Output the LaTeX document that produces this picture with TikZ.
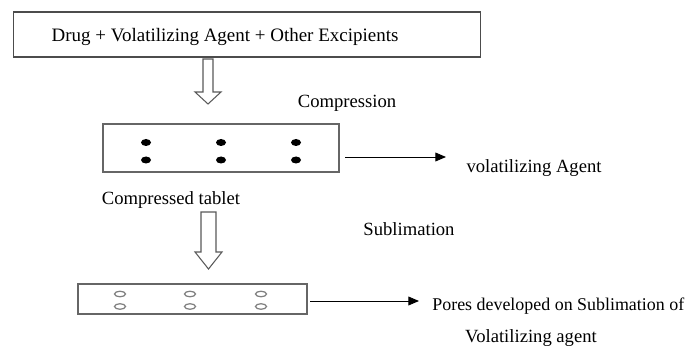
\documentclass[tikz,border=0pt]{standalone}
\usepackage{fontspec}
\setmainfont{Liberation Serif}
\usepackage{tikz}
\usetikzlibrary{arrows.meta,shapes.geometric,positioning}

\begin{document}
\begin{tikzpicture}[x=0.02cm, y=-0.02cm,
			txt/.style = {inner sep=0pt, font=\fontsize{10.6}{12}\selectfont},
			mixbox/.style = {draw=black!70, line width=0.6pt, minimum width=9.36cm, minimum height=0.9cm},
			tabletbox/.style = {draw=black!60, line width=1pt, fill=white},
			hollowarrow/.style = {draw=black!65, fill=white, line width=0.6pt, line join=miter},
			drug/.style = {ellipse, fill=black, inner sep=0pt, minimum width=0.2cm, minimum height=0.14cm},
			pore/.style = {ellipse, draw=black!50, line width=0.7pt, inner sep=0pt, minimum width=0.22cm, minimum height=0.11cm},
			outarrow/.style = {-{Triangle[length=6pt,width=5pt]}, line width=0.5pt}
		]
		\useasboundingbox (0,0) rectangle (688,347);
		% starting mixture
		\node [mixbox] (mix) at (247,34.5) {};
		\node [txt, font=\fontsize{10.8}{12}\selectfont] (mixtxt) at (225,37) {Drug + Volatilizing Agent + Other Excipients};
		\draw [hollowarrow] (203,59) -- (213,59) -- (213,92) -- (221,92) -- (208,104)
			-- (195,92) -- (203,92) -- cycle;
		\node [txt] (compr) at (347,103) {Compression};
		% compressed tablet
		\node [tabletbox, minimum width=4.72cm, minimum height=0.96cm] (tab1) at (221,148) {};
		\foreach \x in {146,221,296} {
				\node [drug] at (\x,142.5) {};
				\node [drug] at (\x,160) {};
			}
		\coordinate (v1s) at (345,157);
		\coordinate (v1e) at (446,157);
		\draw [outarrow] (v1s) -- (v1e);
		\node [txt] (vol) at (534,168) {volatilizing Agent};
		\node [txt] (comptab) at (171,200) {Compressed tablet};
		\draw [hollowarrow] (201,212) -- (216,212) -- (216,252) -- (222,252) -- (208.5,269)
			-- (195,252) -- (201,252) -- cycle;
		\node [txt] (subl) at (409,229) {Sublimation};
		% porous tablet
		\node [tabletbox, minimum width=4.58cm, minimum height=0.6cm] (tab2) at (192.5,299) {};
		\foreach \x in {120,190,261} {
				\node [pore] at (\x,294) {};
				\node [pore] at (\x,306.5) {};
			}
		\coordinate (v2s) at (310,301);
		\coordinate (v2e) at (419,301);
		\draw [outarrow] (v2s) -- (v2e);
		\node [txt, font=\fontsize{10.2}{12}\selectfont, anchor=west] (pores) at (432,306) {Pores developed on Sublimation of};
		\node [txt] (pores2) at (531,338) {Volatilizing agent};
	\end{tikzpicture}
\end{document}
